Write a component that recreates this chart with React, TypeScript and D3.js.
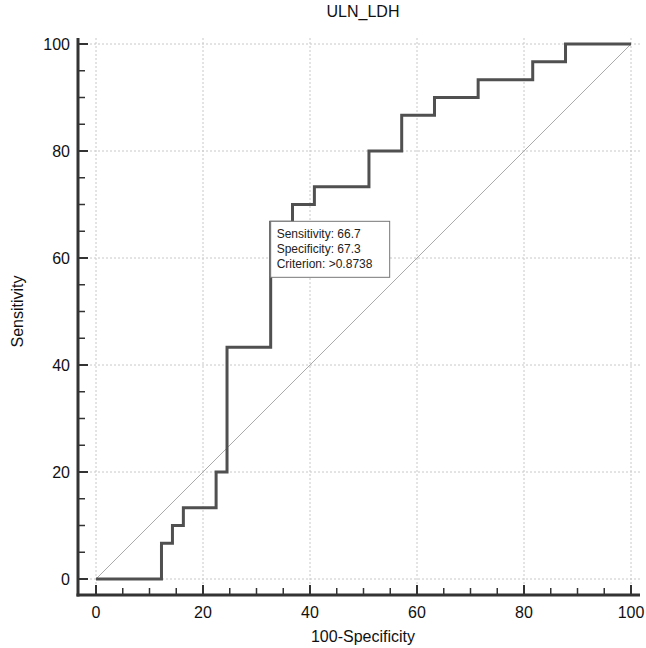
import React from 'react'
import * as d3 from 'd3'

const fpr = [0, 12.24, 12.24, 14.29, 14.29, 16.33, 16.33, 22.45, 22.45, 24.49, 24.49, 32.65, 32.65, 36.73, 36.73, 40.82, 40.82, 51.02, 51.02, 57.14, 57.14, 63.27, 63.27, 71.43, 71.43, 81.63, 81.63, 87.76, 87.76, 100]
const tpr = [0, 0, 6.67, 6.67, 10, 10, 13.33, 13.33, 20, 20, 43.33, 43.33, 66.67, 66.67, 70, 70, 73.33, 73.33, 80, 80, 86.67, 86.67, 90, 90, 93.33, 93.33, 96.67, 96.67, 100, 100]
const majorTicks = [0, 20, 40, 60, 80, 100]
const minorTicks = d3.range(0, 101, 5)
const boxLines = ['Sensitivity: 66.7', 'Specificity: 67.3', 'Criterion: >0.8738']
const boxAnchor = [32.65, 66.67]

export default function App() {
  const W = 646, H = 648
  const x = d3.scaleLinear().domain([0, 100]).range([96, 631])
  const y = d3.scaleLinear().domain([0, 100]).range([579, 44])
  const frameL = 78, frameB = 595, frameR = 640, frameT = 38
  const line = d3.line<number>().x((_, i) => x(fpr[i])).y((_, i) => y(tpr[i]))
  const font = 'Liberation Sans, Arial, sans-serif'
  const bx = x(boxAnchor[0]), by = y(boxAnchor[1])
  return (
    <svg width={W} height={H} style={{ position: 'absolute', left: 0, top: 0 }} fontFamily={font}>
      <rect width={W} height={H} fill="#fff" />
      {majorTicks.map(t => (
        <g key={t}>
          <line x1={x(t)} x2={x(t)} y1={frameT} y2={frameB} stroke="#c8c8c8" strokeDasharray="2,2" />
          <line x1={frameL} x2={frameR} y1={y(t)} y2={y(t)} stroke="#c8c8c8" strokeDasharray="2,2" />
        </g>
      ))}
      <line x1={x(0)} y1={y(0)} x2={x(100)} y2={y(100)} stroke="#aaa" strokeWidth={1} />
      <path d={line(fpr) || ''} fill="none" stroke="#505050" strokeWidth={3} />
      <rect x={bx} y={by - 1} width={119} height={56} fill="#fff" stroke="#777" />
      {boxLines.map((s, i) => (
        <text key={s} x={bx + 6} y={by + 16 + i * 15} fontSize={12} fill="#222">{s}</text>
      ))}
      <line x1={frameL} x2={frameL} y1={frameT} y2={frameB + 1.5} stroke="#333" strokeWidth={3} />
      <line x1={frameL - 1.5} x2={frameR} y1={frameB} y2={frameB} stroke="#333" strokeWidth={3} />
      {minorTicks.map(t => {
        const major = t % 20 === 0
        return (
          <g key={t}>
            <line x1={x(t)} x2={x(t)} y1={frameB} y2={frameB - (major ? 10 : 7)} stroke="#333" strokeWidth={major ? 2 : 1.5} />
            <line x1={frameL} x2={frameL + (major ? 10 : 7)} y1={y(t)} y2={y(t)} stroke="#333" strokeWidth={major ? 2 : 1.5} />
          </g>
        )
      })}
      {majorTicks.map(t => (
        <g key={'l' + t}>
          <text x={x(t)} y={frameB + 23} fontSize={16} textAnchor="middle" fill="#111">{t}</text>
          <text x={frameL - 8} y={y(t) + 6} fontSize={16} textAnchor="end" fill="#111">{t}</text>
        </g>
      ))}
      <text x={363} y={17} fontSize={16} textAnchor="middle" fill="#111">ULN_LDH</text>
      <text x={363} y={642} fontSize={16} textAnchor="middle" fill="#111">100-Specificity</text>
      <text transform={`translate(23,${y(50)}) rotate(-90)`} fontSize={16} textAnchor="middle" fill="#111">Sensitivity</text>
    </svg>
  )
}
